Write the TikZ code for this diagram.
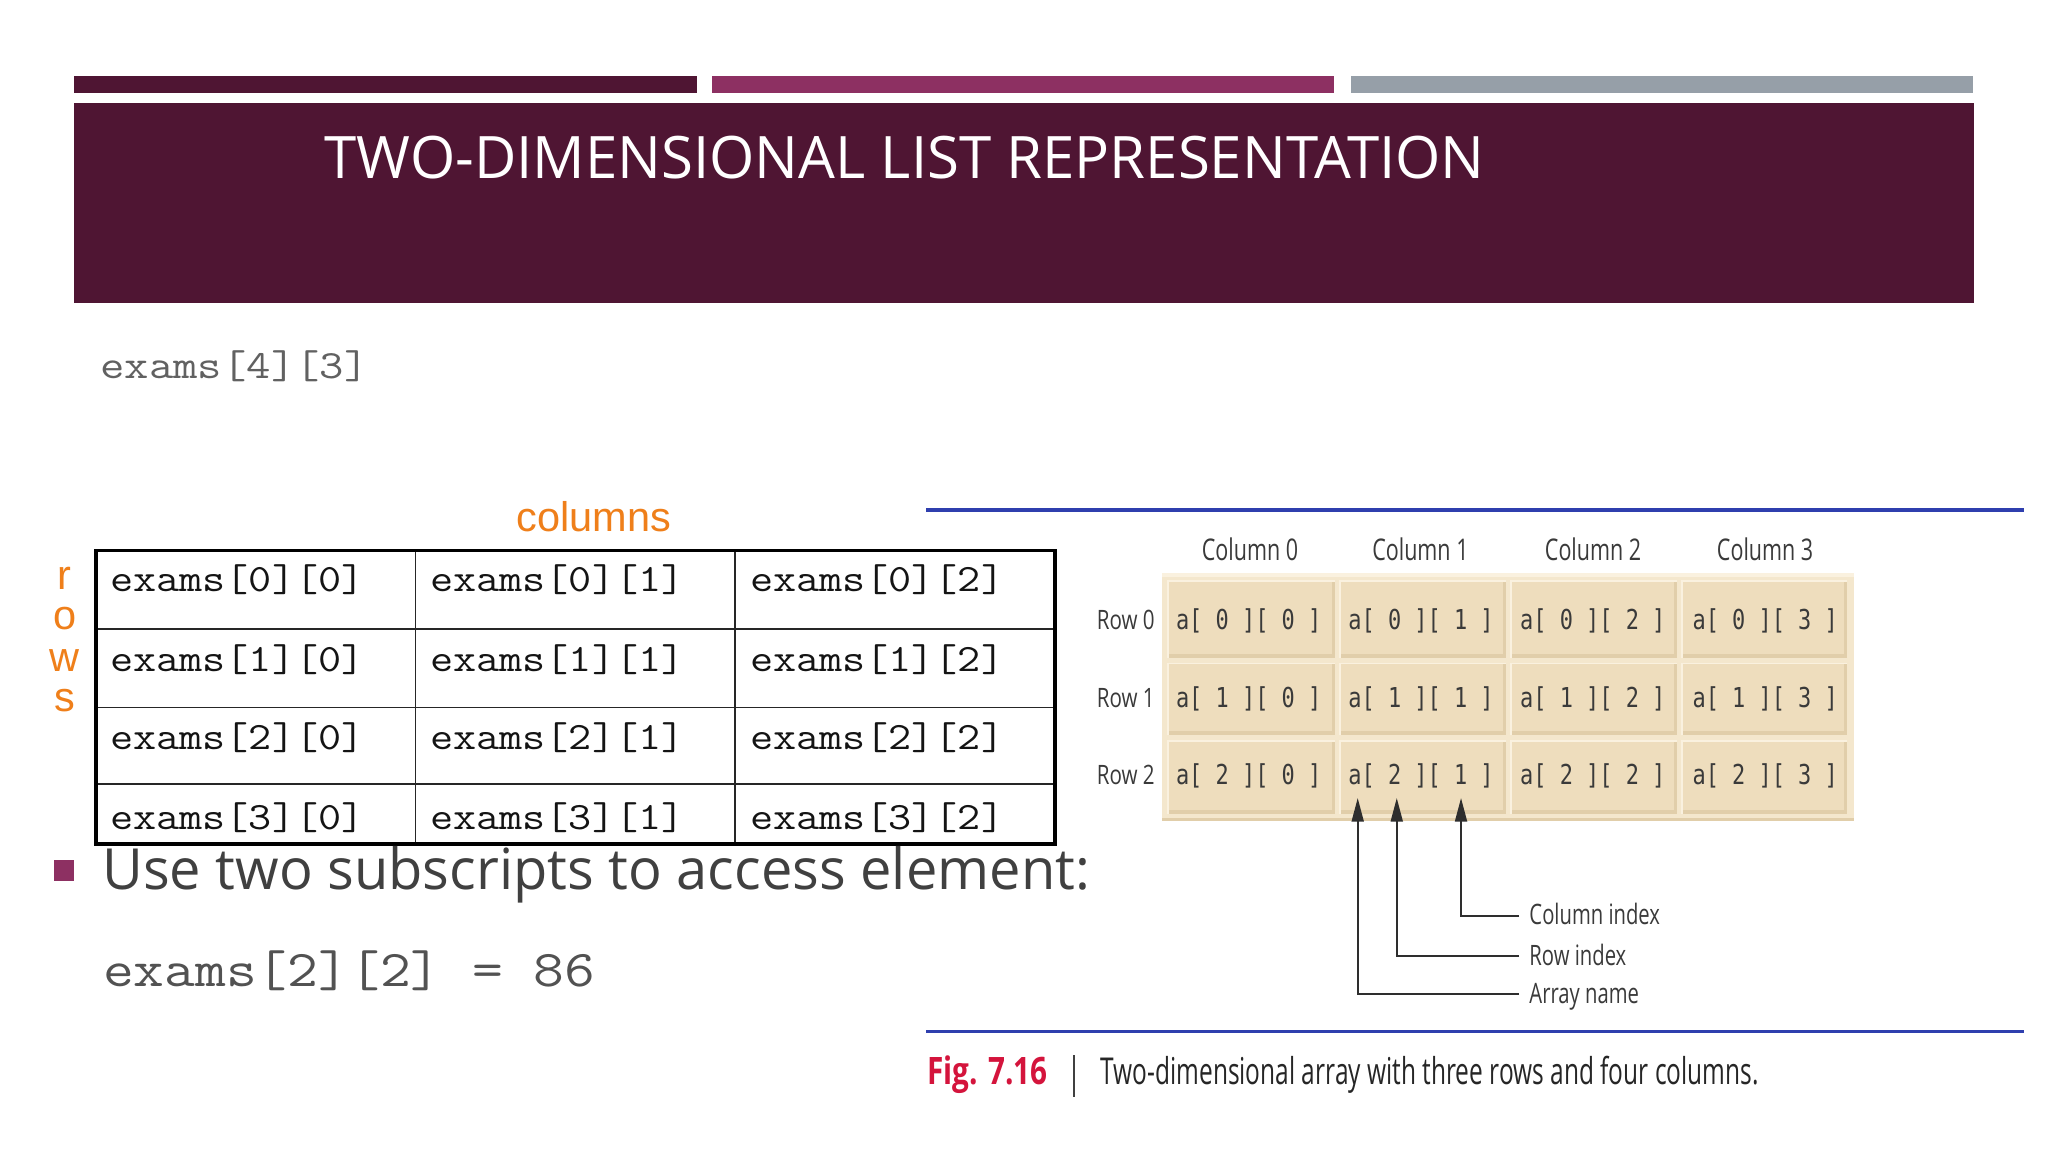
\documentclass[tikz,border=0pt]{standalone}
\usepackage{fontspec}
\usetikzlibrary{arrows.meta}
\newfontfamily\osans{Open Sans}
\newfontfamily\lsans{Liberation Sans}
\newfontfamily\dmono{DejaVu Sans Mono}
\newlength{\upx}\setlength{\upx}{0.371627pt}
\definecolor{plum}{HTML}{4F1533}
\definecolor{magent}{HTML}{8D3062}
\definecolor{graybar}{HTML}{969FA8}
\definecolor{orng}{HTML}{EF7F1A}
\definecolor{figblue}{HTML}{2F3FAE}
\definecolor{figred}{HTML}{D4143C}
\definecolor{panel}{HTML}{F4E7CD}
\definecolor{tileface}{HTML}{EEDDBD}
\definecolor{tiledark}{HTML}{E1CEAA}
\definecolor{tilelight}{HTML}{FAF1DF}
\definecolor{figtext}{HTML}{3A3A3A}
\tikzset{
  every node/.style={inner sep=0pt, outer sep=0pt},
  tabtxt/.style={anchor=base west, text=black!92, font=\ttfamily\fontsize{11pt}{13pt}\selectfont},
  orngtxt/.style={anchor=base, text=orng, font=\lsans\fontsize{11.8pt}{14pt}\selectfont},
  celltxt/.style={anchor=base, text=figtext, font=\dmono\fontsize{7.8pt}{9pt}\selectfont},
  colhead/.style={anchor=base, text=figtext, font=\osans\fontsize{8.5pt}{10pt}\selectfont},
  rowhead/.style={anchor=base east, text=figtext, font=\osans\fontsize{7.6pt}{9pt}\selectfont},
  ptrlabel/.style={anchor=west, inner xsep=8\upx, text height=14\upx, text depth=0pt, text=figtext, font=\osans\fontsize{8pt}{10pt}\selectfont},
  ptr/.style={draw=black!82, line width=0.56pt, -{Triangle[length=6.7pt, width=3.4pt]}},
  thinrule/.style={draw=black!85, line width=0.48pt},
  thickrule/.style={draw=black, line width=1.1pt},
  bluerule/.style={draw=figblue, line width=0.93pt},
}
\begin{document}
\begin{tikzpicture}[x=0.0130612cm, y=-0.0130612cm]
\useasboundingbox (0,0) rectangle (1568,882);
\fill[white] (0,0) rectangle (1568,882);

% top bars and banner
\fill[plum] (57,58.5) rectangle (533.5,71);
\fill[magent] (545,58.5) rectangle (1021.5,71);
\fill[graybar] (1034,58.5) rectangle (1510.7,71);
\fill[plum] (56.5,79) rectangle (1511.5,232.3);
\node[anchor=base west, text=white] (title) at (248.5,136.5)
  {\resizebox{888\upx}{32.5\upx}{\osans TWO-DIMENSIONAL LIST REPRESENTATION}};

% declaration
\node[anchor=base west, text=black!62, font=\ttfamily\fontsize{11.4pt}{13pt}\selectfont] (decl) at (77,289.7) {\scalebox{1.18}[1]{exams[4][3]}};

% left table
\node[orngtxt] (colslbl) at (454.5,407) {columns};
\foreach \ch/\yb/\k in {r/451/1, o/482/2, w/514/3, s/545/4}
  \node[orngtxt] (rows\k) at (49.5,\yb) {\ch};
\foreach \yl in {481.4,541.6,600.5}
  \draw[thinrule] (73.3,\yl) -- (808,\yl);
\foreach \xl in {318,562.8}
  \draw[thinrule] (\xl,421.5) -- (\xl,646);
\draw[thickrule] (73.3,421.5) rectangle (808,646);
\foreach \ro/\yb in {0/453,1/514,2/574,3/635}
  \foreach \co/\xl in {0/84.5,1/329.5,2/574.3}
    \node[tabtxt] (e\ro\co) at (\xl,\yb) {\scalebox{1.16}[1]{exams[\ro][\co]}};

% bullet
\fill[magent] (41,658.5) rectangle (57,674.5);
\node[anchor=base west, text=black!75] (bullet) at (78.5,681)
  {\resizebox{756\upx}{33\upx}{\osans Use two subscripts to access element:}};
\node[anchor=base west, text=black!68, font=\ttfamily\fontsize{14.65pt}{17pt}\selectfont] (assign) at (79,755.4) {\scalebox{1.16}[1]{exams[2][2] = 86}};

% figure
\draw[bluerule] (709,390.5) -- (1550,390.5);
\draw[bluerule] (709,790) -- (1550,790);

\foreach \co/\xc in {0/957,1/1087.5,2/1219.7,3/1351.4}
  \node[colhead] (col\co) at (\xc,429.5) {\scalebox{0.72}[1]{Column \co}};

\fill[panel] (890,439) rectangle (1419.6,628.5);
\fill[tilelight] (890,439) rectangle (1419.6,442);
\foreach \co/\xl/\xr in {0/894.5/1022,1/1026/1153,2/1157/1284,3/1288/1414}
  \foreach \ro/\yt/\yb in {0/445/504,1/508/562.5,2/567/623}{
    \fill[tileface] (\xl,\yt) rectangle (\xr,\yb);
    \fill[tiledark] (\xl,\yb-3) rectangle (\xr,\yb);
    \fill[tiledark] (\xr-2,\yt) rectangle (\xr,\yb);
    \draw[tilelight, line width=0.56pt] (\xl,\yb) -- (\xl,\yt) -- (\xr,\yt);
  }
\draw[tiledark, line width=0.75pt] (890,627.5) -- (1419.6,627.5);

\foreach \ro/\yb in {0/482,1/541.5,2/601}
  \node[rowhead] (row\ro) at (884,\yb) {\scalebox{0.77}[1]{Row \ro}};
\foreach \ro/\yb in {0/482,1/541.5,2/601}
  \foreach \co/\xc in {0/956,1/1088,2/1219.5,3/1351.5}
    \node[celltxt] (c\ro\co) at (\xc,\yb) {\scalebox{0.8}[1]{a[~\ro~][~\co~]}};

\coordinate (tipA) at (1039.5,611);
\coordinate (tipR) at (1069.4,611);
\coordinate (tipC) at (1118.6,611);
\node[ptrlabel] (lblC) at (1163,701) {\scalebox{0.72}[1]{Column index}};
\node[ptrlabel] (lblR) at (1163,732) {\scalebox{0.72}[1]{Row index}};
\node[ptrlabel] (lblA) at (1163,761) {\scalebox{0.72}[1]{Array name}};
\draw[ptr] (lblC.west) -| (tipC);
\draw[ptr] (lblR.west) -| (tipR);
\draw[ptr] (lblA.west) -| (tipA);

% caption
\node[anchor=base west, text=figred] (fignum) at (710,830.7)
  {\resizebox{92\upx}{22\upx}{\osans\bfseries Fig. 7.16}};
\draw[line width=0.52pt, draw=black!75] (822,808) -- (822,840);
\node[anchor=base west, text=black!85] (caption) at (842.6,830.7)
  {\resizebox{504\upx}{21.7\upx}{\osans Two-dimensional array with three rows and four columns.}};
\end{tikzpicture}
\end{document}
